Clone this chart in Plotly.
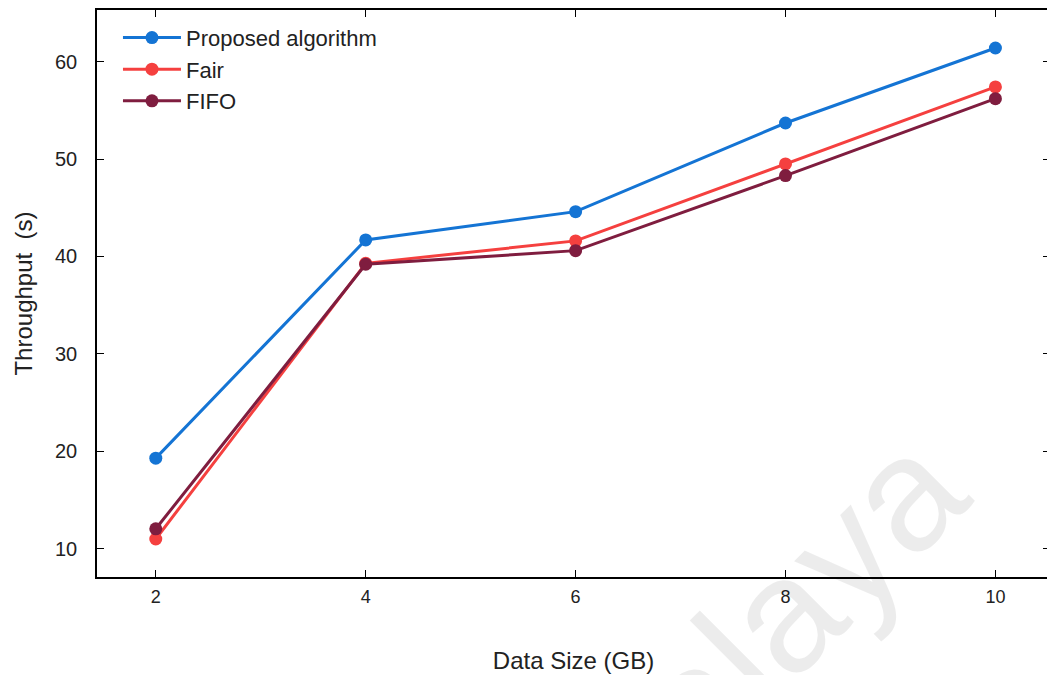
import plotly.graph_objects as go

data_size = [2, 4, 6, 8, 10]
proposed = [19.3, 41.7, 44.6, 53.7, 61.4]
fair = [11.0, 39.3, 41.6, 49.5, 57.4]
fifo = [12.05, 39.2, 40.6, 48.3, 56.2]

series_names = ["Proposed algorithm", "Fair", "FIFO"]
colors = ["#1474d4", "#f5403f", "#7f1d3f"]

fig = go.Figure()
for name, vals, col in zip(series_names, [proposed, fair, fifo], colors):
    fig.add_trace(go.Scatter(
        x=data_size, y=vals, name=name, mode="lines+markers",
        line=dict(color=col, width=3),
        marker=dict(color=col, size=13),
    ))

axis_common = dict(
    showline=True, linecolor="black", linewidth=1.5, mirror="ticks",
    ticks="inside", ticklen=7, tickwidth=1, tickcolor="black",
    showgrid=False, zeroline=False, automargin=False,
)

# page body has an 8px margin, so margins compensate for it
fig.update_layout(
    width=1055, height=675,
    margin=dict(l=89, r=13, t=2, b=106),
    paper_bgcolor="white", plot_bgcolor="white",
    font=dict(family="Liberation Sans, Arial, sans-serif", color="#222222"),
    xaxis=dict(range=[1.44, 10.52], tickvals=data_size, ticklabelstandoff=3,
               tickfont=dict(size=18), title=dict(text="Data Size (GB)", font=dict(size=24), standoff=46),
               **axis_common),
    yaxis=dict(range=[7.1, 65.3], tickvals=[10, 20, 30, 40, 50, 60], ticklabelstandoff=14,
               tickfont=dict(size=20),
               title=dict(text="Throughput  (s)", font=dict(size=24), standoff=16),
               **axis_common),
    legend=dict(x=0.022, y=0.988, xanchor="left", yanchor="top",
                bgcolor="rgba(0,0,0,0)", font=dict(size=22), itemwidth=58),
    showlegend=True,
)

fig.add_annotation(
    text="Malaya", xref="paper", yref="paper", x=0.686, y=-0.12,
    xanchor="center", yanchor="middle",
    showarrow=False, textangle=-45,
    font=dict(size=162, color="rgba(0,0,0,0.075)", family="Liberation Sans, Arial, sans-serif"),
)

fig.write_html("out.html")
